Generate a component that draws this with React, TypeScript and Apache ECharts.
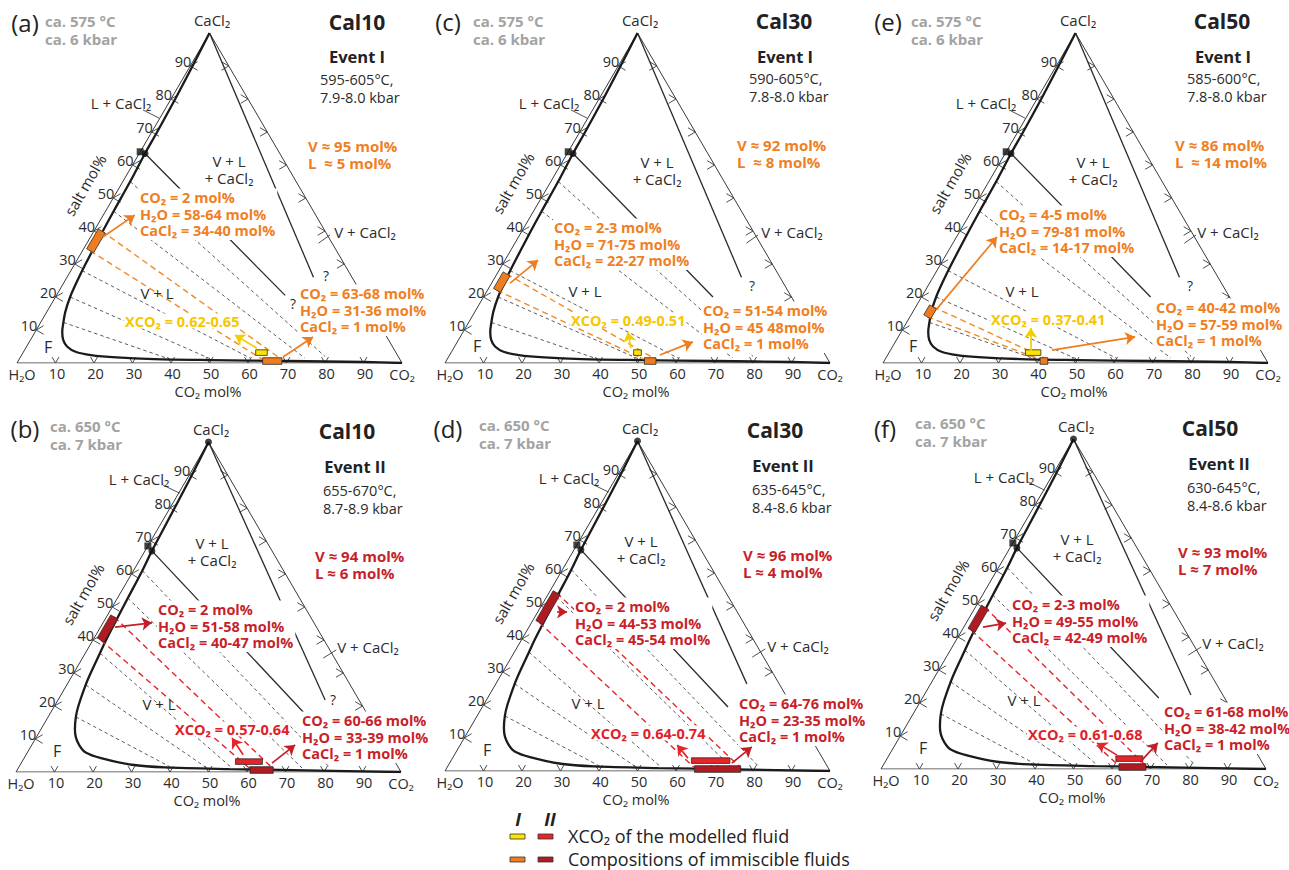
import React, { useEffect, useRef } from "react";
import * as echarts from "echarts";

// ---------------- data ----------------
const TICKS = [10, 20, 30, 40, 50, 60, 70, 80, 90];
const PANEL_TAGS = ["(a)", "(b)", "(c)", "(d)", "(e)", "(f)"];
const SAMPLES = ["Cal10", "Cal10", "Cal30", "Cal30", "Cal50", "Cal50"];
const EVENTS = ["Event I", "Event II", "Event I", "Event II", "Event I", "Event II"];
const REF_T = ["ca. 575 °C", "ca. 650 °C", "ca. 575 °C", "ca. 650 °C", "ca. 575 °C", "ca. 650 °C"];
const REF_P = ["ca. 6 kbar", "ca. 7 kbar", "ca. 6 kbar", "ca. 7 kbar", "ca. 6 kbar", "ca. 7 kbar"];
const MODEL_T = ["595-605°C,", "655-670°C,", "590-605°C,", "635-645°C,", "585-600°C,", "630-645°C,"];
const MODEL_P = ["7.9-8.0 kbar", "8.7-8.9 kbar", "7.8-8.0 kbar", "8.4-8.6 kbar", "7.8-8.0 kbar", "8.4-8.6 kbar"];
const VAPOUR_PCT = [95, 94, 92, 96, 86, 93];
const LIQUID_PCT = [5, 6, 8, 4, 14, 7];
const LIQ_CO2_TXT = ["2", "2", "2-3", "2", "4-5", "2-3"];
const LIQ_H2O_TXT = ["58-64", "51-58", "71-75", "44-53", "79-81", "49-55"];
const LIQ_CO2 = [2, 2, 2.5, 2, 4.5, 2.5];
const LIQ_SALT = [[34, 40], [40, 47], [22, 27], [45, 54], [14, 17], [42, 49]];
const VAP_CO2 = [[63, 68], [60, 66], [51, 54], [64, 76], [40, 42], [61, 68]];
const VAP_H2O_TXT = ["31-36 mol%", "33-39 mol%", "45 48mol%", "23-35 mol%", "57-59 mol%", "38-42 mol%"];
const VAP_CACL2 = 1;
const XCO2 = [[0.62, 0.65], [0.57, 0.64], [0.49, 0.51], [0.64, 0.74], [0.37, 0.41], [0.61, 0.68]];

// solvus (CO2 mol%, salt mol%)
const SOLVUS_I = [
  [0, 100], [0.6, 90], [1.1, 80], [1.4, 70], [1.5, 63.5], [1.9, 55], [2.1, 46], [2.3, 40], [2.8, 30],
  [3.2, 25], [3.8, 20], [4.8, 15.5], [5.9, 12.3], [7, 9.5], [8.5, 7], [10.5, 5], [13.5, 3.4], [18, 2.4],
  [25, 1.7], [35, 1.2], [50, 0.9], [70, 0.6], [90, 0.3], [100, 0],
];
const SOLVUS_II = [
  [0, 100], [0.7, 90], [1.2, 80], [1.8, 67], [2.3, 61], [2.7, 52.7], [3.1, 45], [3.4, 40], [3.8, 36],
  [4.4, 30], [4.9, 26.4], [6.2, 20], [7.2, 16.7], [8.8, 13], [10.3, 10.5], [12.5, 8], [15, 6], [20, 4.2],
  [29, 2.2], [38, 1.4], [55, 0.9], [75, 0.5], [100, 0],
];
// tie lines: [CO2 liquid, salt liquid, CO2 vapour, salt vapour]
const TIES_I = [[1.9, 55, 79, 2], [2.1, 46, 74, 1.5], [2.9, 28, 60, 1.4], [3.8, 20, 49.5, 1.3], [5.9, 12.3, 39, 1.2]];
const TIES_II = [[2.3, 61, 81, 1.2], [2.7, 52.7, 73.7, 1.2], [3.8, 36, 55.5, 1.2], [4.9, 26.4, 49, 1.2], [7.2, 16.7, 40, 1.2]];
const L_POINT = [[1.5, 63.5], [1.8, 67]];
const SAT_POINT = [[0, 64], [0, 68.5]];
const THREE_PHASE_V = [[59.4, 20.5], [65.9, 17.9], [59.6, 20], [63.8, 19.4], [59.5, 20], [61.4, 21.5]];
const VCACL2_BOUND = [[64, 26], [69.4, 21.8], [64, 26], [65.2, 26.4], [64, 26], [69.3, 22.4]];
const LEGEND_ROWS = ["XCO₂ of the modelled fluid", "Compositions of immiscible fluids"];

// ---------------- layout & style ----------------
const FONT = '"Open Sans", "DejaVu Sans", sans-serif';
const W = 385;
const H = 330;
const GEOM = [
  { left: 17, bottom: 363 },
  { left: 16, bottom: 772 },
  { left: 445, bottom: 363 },
  { left: 445, bottom: 771 },
  { left: 883, bottom: 363 },
  { left: 881, bottom: 769 },
];
const LAYOUT: any[] = [
  { tag: [8, -11], ref: [28, -12], cal: [340, -11], ev: [340, 23], pt: [303, 47], vl: [291, 113], lc: [104, 70], vlc: [212, 128], vc: [348, 199], vL: [140, 260], F: [31, 314], q: [[276, 270], [309, 242]], salt: [68, 152], b1: [122, 164], b2: [282, 260], xc: [107, 288], arL: [[22.3, 38.2], [30.6, 44.8]], arB: [[69.1, 1.8], [76.9, 7.9]], arX: [[62.3, 4.5], [56.6, 8.5]] },
  { tag: [9, -14], ref: [34, -16], cal: [331, -11], ev: [339, 24], pt: [307, 49], vl: [299, 114], lc: [123, 37], vlc: [196, 101], vc: [352, 205], vL: [143, 262], F: [41, 309], q: [[317, 257]], salt: [67, 152], b1: [141, 167], b2: [285, 278], xc: [158, 287], arL: [[25.7, 43.9], [35.3, 45.2]], arB: [[66.5, 2.7], [72.5, 8.2]], arX: [[59, 5.2], [56.1, 10.3]] },
  { tag: [3, -12], ref: [28, -12], cal: [339, -12], ev: [340, 23], pt: [304, 46], vl: [292, 112], lc: [104, 70], vlc: [212, 129], vc: [347, 199], vL: [140, 258], F: [32, 313], q: [[307, 252]], salt: [68, 150], b1: [108, 194], b2: [257, 277], xc: [125, 287], arL: [[16.9, 24.2], [24.2, 31.2]], arB: [[55.8, 2.4], [64.4, 6.4]], arX: [[48.3, 4.5], [47.5, 9.4]] },
  { tag: [3, -13], ref: [34, -16], cal: [330, -11], ev: [338, 24], pt: [307, 49], vl: [298, 114], lc: [124, 37], vlc: [196, 100], vc: [353, 205], vL: [143, 262], F: [42, 309], q: [], salt: [68, 152], b1: [129, 165], b2: [293, 262], xc: [145, 292], arL: [[29.1, 48.2], [31.7, 48.2]], arB: [[74.5, 2.4], [79.7, 7.3]], arX: [[63.1, 3.9], [60.3, 7.9]] },
  { tag: [5, -12], ref: [28, -12], cal: [339, -12], ev: [340, 23], pt: [304, 46], vl: [292, 112], lc: [103, 70], vlc: [210, 129], vc: [345, 199], vL: [139, 258], F: [30, 313], q: [[307, 252]], salt: [67, 150], b1: [115, 181], b2: [272, 274], xc: [107, 286], arL: [[14, 16.4], [29.6, 38.2]], arB: [[43.9, 3.9], [65.5, 7.9]], arX: [[38.4, 3.6], [38.4, 10.6]] },
  { tag: [4, -11], ref: [34, -16], cal: [329, -11], ev: [338, 24], pt: [306, 49], vl: [297, 113], lc: [123, 38], vlc: [196, 100], vc: [352, 204], vL: [143, 261], F: [42, 309], q: [], salt: [67, 151], b1: [130, 165], b2: [282, 272], xc: [146, 295], arL: [[26.5, 43], [32.5, 44.2]], arB: [[67.3, 2.1], [71.9, 7.9]], arX: [[61.3, 4.2], [56.1, 7.9]] },
];
const LEADERS = [
  { lc: [[32.7, 76.7], [36.9, 74.2]], vc: [[78.3, 36.3], [81.3, 38.8]] },
  { lc: [[38.1, 87], [42.5, 84.5]], vc: [[79.8, 34.5], [83.2, 37]] },
];
const TXT_COL = ["#ef7f24", "#c81f2a"];
const XTXT_COL = ["#f6c600", "#df2129"];
const COMP_FILL = ["#ef7d1f", "#b01b21"];
const XCO2_FILL = ["#ffe400", "#e8242b"];
const DASH_COL = ["#f08a26", "#e3262c"];
const GRAY = "#a3a3a3";
const DARK = "#2b2b2b";
const FS = 15;

const cart = (c: number, s: number) => [c + s / 2, s];

function txt(x: number, y: number, text: string, o: any = {}) {
  const align = o.align || "left";
  const va = o.va || "middle";
  return {
    type: "text",
    x,
    y,
    z: 10,
    silent: true,
    rotation: o.rot || 0,
    style: {
      text,
      fill: o.color || DARK,
      fontSize: o.size || FS,
      fontWeight: o.weight || "normal",
      fontStyle: o.fstyle || "normal",
      fontFamily: FONT,
      align,
      verticalAlign: va,
      textAlign: align,
      textVerticalAlign: va,
      lineHeight: o.lh,
      backgroundColor: o.bg,
      padding: o.pad,
    },
  };
}

function buildOption() {
  const grid: any[] = [];
  const xAxis: any[] = [];
  const yAxis: any[] = [];
  const series: any[] = [];
  const elements: any[] = [];

  GEOM.forEach((g, i) => {
    const ev = i % 2;
    const top = g.bottom - H;
    const L = LAYOUT[i];
    const ax = { xAxisIndex: i, yAxisIndex: i };
    const C = (p: number[]) => cart(p[0], p[1]);
    grid.push({ left: g.left, top, width: W, height: H });
    xAxis.push({ gridIndex: i, type: "value", min: 0, max: 100, show: false });
    yAxis.push({ gridIndex: i, type: "value", min: 0, max: 100, show: false });

    const solv = ev ? SOLVUS_II : SOLVUS_I;
    const ties = ev ? TIES_II : TIES_I;

    // triangle
    series.push({
      type: "line", ...ax, data: [[0, 0], [100, 0], [50, 100], [0, 0]], showSymbol: false, silent: true,
      lineStyle: { color: "#3a3a3a", width: 1 }, z: 2,
    });
    // ticks + leaders
    const segs: any[] = [];
    TICKS.forEach((k) => {
      const b = [k, 0];
      segs.push({ coords: [[k - 0.9, 1.8], b] }, { coords: [b, [k + 0.9, 1.8]] });
      const l = [k / 2, k];
      segs.push({ coords: [[k / 2 + 1.9, k + 1.3], l] }, { coords: [l, [k / 2 + 1.9, k - 1.3]] });
      const r = [100 - k / 2, k];
      segs.push({ coords: [[100 - k / 2 - 1.9, k + 1.3], r] }, { coords: [r, [100 - k / 2 - 1.9, k - 1.3]] });
    });
    const lead = LEADERS[ev];
    segs.push({ coords: lead.lc }, { coords: lead.vc });
    series.push({
      type: "lines", coordinateSystem: "cartesian2d", ...ax, data: segs, silent: true,
      lineStyle: { color: "#3a3a3a", width: 0.9, opacity: 1 }, z: 2,
    });
    // grey tie lines
    series.push({
      type: "lines", coordinateSystem: "cartesian2d", ...ax, silent: true,
      data: ties.map((t) => ({ coords: [cart(t[0], t[1]), cart(t[2], t[3])] })),
      lineStyle: { color: "#3f3f3f", width: 0.85, type: [3.5, 3], opacity: 1 }, z: 2,
    });
    // coloured tie lines
    series.push({
      type: "lines", coordinateSystem: "cartesian2d", ...ax, silent: true,
      data: [
        { coords: [cart(LIQ_CO2[i], LIQ_SALT[i][1]), cart(VAP_CO2[i][1], 1.2)] },
        { coords: [cart(LIQ_CO2[i], LIQ_SALT[i][0]), cart(VAP_CO2[i][0], 1.2)] },
      ],
      lineStyle: { color: DASH_COL[ev], width: 1.4, type: [6, 4], opacity: 1 }, z: 4,
    });
    // phase boundaries
    series.push({
      type: "lines", coordinateSystem: "cartesian2d", ...ax, silent: true,
      data: [
        { coords: [cart(0, 100), C(VCACL2_BOUND[i])] },
        { coords: [C(L_POINT[ev]), C(THREE_PHASE_V[i])] },
      ],
      lineStyle: { color: "#2a2a2a", width: 1.3, opacity: 1 }, z: 3,
    });
    // solvus
    series.push({
      type: "line", ...ax, data: solv.map(C), showSymbol: false, silent: true, smooth: 0.3,
      lineStyle: { color: "#1b1b1b", width: 2.3 }, z: 3,
    });
    // rectangles
    const d = [0.9, -0.61];
    const A = cart(LIQ_CO2[i], LIQ_SALT[i][0]);
    const B = cart(LIQ_CO2[i], LIQ_SALT[i][1]);
    const rects = [
      { pts: [[A[0] + d[0], A[1] + d[1]], [B[0] + d[0], B[1] + d[1]], [B[0] - d[0], B[1] - d[1]], [A[0] - d[0], A[1] - d[1]]], fill: COMP_FILL[ev] },
      { pts: [[VAP_CO2[i][0] + 0.8, -0.4], [VAP_CO2[i][1] + 0.8, -0.4], [VAP_CO2[i][1] + 0.8, 1.6], [VAP_CO2[i][0] + 0.8, 1.6]], fill: COMP_FILL[ev] },
      { pts: [[XCO2[i][0] * 100, 2.3], [XCO2[i][1] * 100, 2.3], [XCO2[i][1] * 100, 4.0], [XCO2[i][0] * 100, 4.0]], fill: XCO2_FILL[ev] },
    ];
    series.push({
      type: "custom", ...ax, z: 5, silent: true, clip: false,
      data: rects.map((r, k) => [r.pts[0][0], r.pts[0][1], k]),
      renderItem: (params: any, api: any) => {
        const r = rects[params.dataIndex];
        return {
          type: "polygon",
          shape: { points: r.pts.map((p) => api.coord(p)) },
          style: { fill: r.fill, stroke: "#2a2a2a", lineWidth: 0.8 },
        };
      },
    });
    // arrows
    series.push({
      type: "lines", coordinateSystem: "cartesian2d", ...ax, silent: true,
      symbol: ["none", "arrow"], symbolSize: 10,
      data: [{ coords: L.arL }, { coords: L.arB }],
      lineStyle: { color: ev ? "#c41d27" : "#ef7d1f", width: 1.7, opacity: 1 }, z: 6,
    });
    series.push({
      type: "lines", coordinateSystem: "cartesian2d", ...ax, silent: true,
      symbol: ["none", "arrow"], symbolSize: 10,
      data: [{ coords: L.arX }],
      lineStyle: { color: ev ? "#e3262c" : "#f3cf00", width: 1.7, opacity: 1 }, z: 6,
    });
    // points
    series.push({
      type: "scatter", ...ax, silent: true, symbol: "circle", symbolSize: 7,
      data: ev ? [C(L_POINT[ev]), cart(0, 100)] : [C(L_POINT[ev])],
      itemStyle: { color: "#111" }, z: 6,
    });
    series.push({
      type: "scatter", ...ax, silent: true, symbol: "rect", symbolSize: 7,
      data: [C(SAT_POINT[ev])], itemStyle: { color: "#111" }, z: 6,
    });

    // ----- texts -----
    const P = (r: number[]) => [g.left + r[0], top + r[1]];
    const px = (x: number, y: number) => [g.left + (x * W) / 100, g.bottom - (y * H) / 100];
    const tc = TXT_COL[ev];
    const e = (el: any) => elements.push(el);
    let p = P(L.tag);
    e(txt(p[0], p[1], PANEL_TAGS[i], { size: 24, align: "center", color: "#222" }));
    p = P(L.ref);
    e(txt(p[0], p[1] - 9, `${REF_T[i]}\n${REF_P[i]}`, { size: 15, weight: "bold", color: GRAY, lh: 18, va: "top" }));
    e(txt(g.left + 195, top - 13, "CaCl₂", { align: "center" }));
    p = P(L.cal);
    e(txt(p[0], p[1], SAMPLES[i], { size: 21, weight: "bold", align: "center", color: "#222" }));
    p = P(L.ev);
    e(txt(p[0], p[1], EVENTS[i], { size: 16.5, weight: "bold", align: "center", color: "#222" }));
    p = P(L.pt);
    e(txt(p[0], p[1] - 10, `${MODEL_T[i]}\n${MODEL_P[i]}`, { size: 14.5, lh: 18, va: "top" }));
    p = P(L.vl);
    e(txt(p[0], p[1] - 9,
      `V ≈ ${VAPOUR_PCT[i]} mol%\n` + (ev ? `L ≈ ${LIQUID_PCT[i]} mol%` : `L  ≈ ${LIQUID_PCT[i]} mol%`),
      { size: 15, weight: "bold", color: tc, lh: 17.5, va: "top" }));
    p = P(L.lc);
    e(txt(p[0], p[1], "L + CaCl₂", { align: "center" }));
    p = P(L.vlc);
    e(txt(p[0], p[1] - 9, "V + L\n+ CaCl₂", { align: "center", lh: 17.5, va: "top" }));
    p = P(L.vc);
    e(txt(p[0], p[1], "V + CaCl₂", { align: "center" }));
    p = P(L.vL);
    e(txt(p[0], p[1], "V + L", { align: "center" }));
    p = P(L.F);
    e(txt(p[0], p[1], "F", { size: 16, align: "center" }));
    L.q.forEach((q: number[]) => {
      const qq = P(q);
      e(txt(qq[0], qq[1], "?", { size: 14, align: "center" }));
    });
    p = P(L.salt);
    e(txt(p[0], p[1], "salt mol%", { align: "center", rot: Math.PI / 3 }));
    e(txt(g.left + 191, g.bottom + 28, "CO₂ mol%", { size: 14.5, align: "center" }));
    e(txt(g.left + 5, g.bottom + 11, "H₂O", { size: 14.5, align: "center" }));
    e(txt(g.left + W, g.bottom + 11, "CO₂", { size: 14.5, align: "center" }));
    TICKS.forEach((k) => {
      const lp = px(k / 2, k);
      e(txt(lp[0] + 1, lp[1] - 5, String(k), { size: 14.5, align: "right" }));
      const bp = px(k, 0);
      e(txt(bp[0] + 1.5, bp[1] + 10.5, String(k), { size: 14.5, align: "center" }));
    });
    p = P(L.b1);
    e(txt(p[0], p[1] - 8.5,
      `CO₂ = ${LIQ_CO2_TXT[i]} mol%\nH₂O = ${LIQ_H2O_TXT[i]} mol%\nCaCl₂ = ${LIQ_SALT[i][0]}-${LIQ_SALT[i][1]} mol%`,
      { size: 14.5, weight: "bold", color: tc, lh: 16.5, va: "top", bg: "#ffffff", pad: [1, 2, 1, 1] }));
    p = P(L.b2);
    e(txt(p[0], p[1] - 8.5,
      `CO₂ = ${VAP_CO2[i][0]}-${VAP_CO2[i][1]} mol%\nH₂O = ${VAP_H2O_TXT[i]}\nCaCl₂ = ${VAP_CACL2} mol%`,
      { size: 14.5, weight: "bold", color: tc, lh: 16.5, va: "top", bg: "#ffffff", pad: [1, 2, 1, 1] }));
    p = P(L.xc);
    e(txt(p[0], p[1], `XCO₂ = ${XCO2[i][0].toFixed(2)}-${XCO2[i][1].toFixed(2)}`,
      { size: 14.5, weight: "bold", color: XTXT_COL[ev], bg: "#ffffff", pad: [0, 1, 0, 1] }));
  });

  // legend
  elements.push(txt(518, 819, "I", { size: 18, weight: "bold", fstyle: "italic", align: "center", color: "#222" }));
  elements.push(txt(550, 819, "II", { size: 18, weight: "bold", fstyle: "italic", align: "center", color: "#222" }));
  const sw = (x: number, y: number, fill: string) => ({
    type: "rect", z: 10, silent: true, shape: { x, y, width: 15, height: 5 },
    style: { fill, stroke: "#333", lineWidth: 0.8 },
  });
  elements.push(sw(510, 834, XCO2_FILL[0]), sw(538, 834, XCO2_FILL[1]), sw(510, 857, COMP_FILL[0]), sw(538, 857, COMP_FILL[1]));
  elements.push(txt(568, 835.5, LEGEND_ROWS[0], { size: 18, color: "#222" }));
  elements.push(txt(568, 859, LEGEND_ROWS[1], { size: 18, color: "#222" }));

  return {
    animation: false,
    backgroundColor: "#ffffff",
    grid,
    xAxis,
    yAxis,
    series,
    graphic: { elements },
  };
}

export default function App() {
  const ref = useRef<HTMLDivElement>(null);
  useEffect(() => {
    if (!ref.current) return;
    const chart = echarts.init(ref.current, undefined, { renderer: "svg" });
    chart.setOption(buildOption() as any);
    return () => chart.dispose();
  }, []);
  return (
    <div
      ref={ref}
      style={{ position: "absolute", left: 0, top: 0, width: 1289, height: 870, background: "#fff" }}
    />
  );
}
